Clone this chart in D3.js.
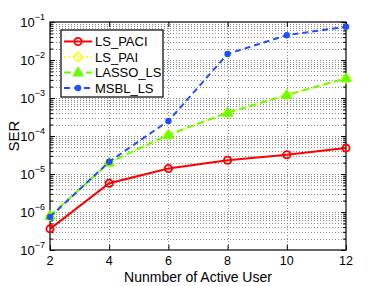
<!DOCTYPE html>
<html>
<head>
<meta charset="utf-8">
<script src="https://cdn.jsdelivr.net/npm/d3@7"></script>
<style>
    body { margin: 0; background: #fff; }
    svg { display: block; font-family: Helvetica, Arial, "Liberation Sans", sans-serif; }
</style>
</head>
<body>
<div id="chart"></div>
<script>
// values
const users = [2, 4, 6, 8, 10, 12];
const lsPaci = [3.6e-7, 5.7e-6, 1.4e-5, 2.3e-5, 3.2e-5, 4.8e-5];
const lsPai = [7.9e-7, 2.0e-5, 1.07e-4, 4.1e-4, 1.2e-3, 3.3e-3];
const lassoLs = [7.9e-7, 2.0e-5, 1.07e-4, 4.1e-4, 1.2e-3, 3.3e-3];
const msblLs = [7.4e-7, 2.1e-5, 2.5e-4, 1.44e-2, 4.5e-2, 7.5e-2];
const xTicks = [2, 4, 6, 8, 10, 12];
const yExponents = [-7, -6, -5, -4, -3, -2, -1];

const width = 382, height = 286;
const margin = {top: 22, right: 36, bottom: 36, left: 50};
const w = width - margin.left - margin.right,
    h = height - margin.top - margin.bottom;

const svg = d3.select('#chart').append('svg')
    .attr('width', width)
    .attr('height', height);

const g = svg.append('g')
    .attr('transform', 'translate(' + margin.left + ',' + margin.top + ')');

const x = d3.scaleLinear().domain([2, 12]).range([0, w]);
const y = d3.scaleLog().domain([1e-7, 1e-1]).range([h, 0]);

// minor + major y values
const yAll = [];
for (let e = -7; e < -1; e++) {
    for (let m = 1; m < 10; m++) yAll.push(m * Math.pow(10, e));
}
yAll.push(1e-1);

// dotted grid
const gridColor = '#8a8a8a';
g.append('g').selectAll('line')
    .data(yAll.filter(v => v > 1e-7 && v < 1e-1))
    .join('line')
    .attr('x1', 0).attr('x2', w)
    .attr('y1', d => Math.round(y(d)) + .5).attr('y2', d => Math.round(y(d)) + .5)
    .attr('stroke', gridColor)
    .attr('stroke-width', 1)
    .attr('stroke-dasharray', '1,2');

g.append('g').selectAll('line')
    .data(xTicks.slice(1, -1))
    .join('line')
    .attr('x1', d => Math.round(x(d)) + .5).attr('x2', d => Math.round(x(d)) + .5)
    .attr('y1', 0).attr('y2', h)
    .attr('stroke', gridColor)
    .attr('stroke-width', 1)
    .attr('stroke-dasharray', '1,2');

// axes with inward ticks on all four sides
const isMajor = v => Math.abs(Math.log10(v) - Math.round(Math.log10(v))) < 1e-6;

const yLeft = d3.axisLeft(y).tickValues(yAll).tickSizeInner(-1).tickSizeOuter(0).tickFormat('');
const yRight = d3.axisRight(y).tickValues(yAll).tickSizeInner(-1).tickSizeOuter(0).tickFormat('');
const xBottom = d3.axisBottom(x).tickValues(xTicks).tickSizeInner(-5).tickSizeOuter(0).tickFormat('');
const xTop = d3.axisTop(x).tickValues(xTicks).tickSizeInner(-5).tickSizeOuter(0).tickFormat('');

const yl = g.append('g').call(yLeft);
const yr = g.append('g').attr('transform', 'translate(' + w + ',0)').call(yRight);
g.append('g').attr('transform', 'translate(0,' + h + ')').call(xBottom);
g.append('g').call(xTop);

yl.selectAll('.tick line').attr('x2', d => isMajor(d) ? 5 : 3);
yr.selectAll('.tick line').attr('x2', d => isMajor(d) ? -5 : -3);
g.selectAll('.domain').remove();
g.selectAll('.tick line').attr('stroke', '#000');

g.append('rect')
    .attr('x', 0).attr('y', 0)
    .attr('width', w).attr('height', h)
    .attr('fill', 'none')
    .attr('stroke', '#000')
    .attr('stroke-width', 1.2);

// tick labels
const yLab = g.append('g').selectAll('text')
    .data(yExponents)
    .join('text')
    .attr('x', -5)
    .attr('y', d => y(Math.pow(10, d)) + 5)
    .attr('text-anchor', 'end')
    .attr('font-size', 13);
yLab.append('tspan').text('10');
yLab.append('tspan').attr('dy', -7).attr('font-size', 9).text(d => '\u2212' + Math.abs(d));

g.append('g').selectAll('text')
    .data(xTicks)
    .join('text')
    .attr('x', d => x(d))
    .attr('y', h + 15)
    .attr('text-anchor', 'middle')
    .attr('font-size', 12.5)
    .text(d => d);

svg.append('text')
    .attr('x', margin.left + w / 2)
    .attr('y', 282)
    .attr('text-anchor', 'middle')
    .attr('font-size', 14)
    .text('Nunmber of Active User');

svg.append('text')
    .attr('transform', 'translate(19,' + (margin.top + h / 2) + ') rotate(-90)')
    .attr('text-anchor', 'middle')
    .attr('font-size', 15)
    .text('SER');

// series
const series = [
    {name: 'LS_PACI', values: lsPaci, color: '#ff0000', dash: null, marker: 'circle'},
    {name: 'LS_PAI', values: lsPai, color: '#ffff00', dash: '1.5,3', marker: 'diamond'},
    {name: 'LASSO_LS', values: lassoLs, color: '#66ff00', dash: '7,4', marker: 'triangle'},
    {name: 'MSBL_LS', values: msblLs, color: '#1f4fff', dash: '6,4', marker: 'dot'}
];

const line = d3.line()
    .x(d => x(d[0]))
    .y(d => y(d[1]));

function drawMarker(sel, s) {
    if (s.marker === 'circle') {
        sel.append('circle').attr('r', 3.6)
            .attr('fill', 'none').attr('stroke', s.color).attr('stroke-width', 1.8);
    } else if (s.marker === 'diamond') {
        sel.append('path').attr('d', 'M0,-4.5L4.5,0L0,4.5L-4.5,0Z')
            .attr('fill', 'none').attr('stroke', s.color).attr('stroke-width', 1.6);
    } else if (s.marker === 'triangle') {
        sel.append('path').attr('d', 'M0,-5.5L5,3.5L-5,3.5Z')
            .attr('fill', s.color).attr('stroke', s.color).attr('stroke-width', 1);
    } else {
        sel.append('circle').attr('r', 3.2).attr('fill', s.color);
    }
}

series.forEach(s => {
    const pts = users.map((u, i) => [u, s.values[i]]);
    g.append('path')
        .datum(pts)
        .attr('d', line)
        .attr('fill', 'none')
        .attr('stroke', s.color)
        .attr('stroke-width', 2)
        .attr('stroke-dasharray', s.dash);
    g.append('g').selectAll('g')
        .data(pts)
        .join('g')
        .attr('transform', d => 'translate(' + x(d[0]) + ',' + y(d[1]) + ')')
        .each(function () { drawMarker(d3.select(this), s); });
});

// legend
const legend = svg.append('g').attr('transform', 'translate(61,30)');
legend.append('rect')
    .attr('width', 102).attr('height', 67)
    .attr('fill', '#fff')
    .attr('stroke', '#000')
    .attr('stroke-width', 1.2);

const rows = legend.selectAll('.row')
    .data(series)
    .join('g')
    .attr('class', 'row')
    .attr('transform', (d, i) => 'translate(0,' + (11.5 + i * 15.5) + ')');

rows.append('line')
    .attr('x1', 3).attr('x2', 31)
    .attr('stroke', d => d.color)
    .attr('stroke-width', 2)
    .attr('stroke-dasharray', d => d.dash);
rows.append('g')
    .attr('transform', 'translate(17,0)')
    .each(function (d) { drawMarker(d3.select(this), d); });
rows.append('text')
    .attr('x', 34)
    .attr('y', 4.5)
    .attr('font-size', 13)
    .text(d => d.name);
</script>
</body>
</html>
